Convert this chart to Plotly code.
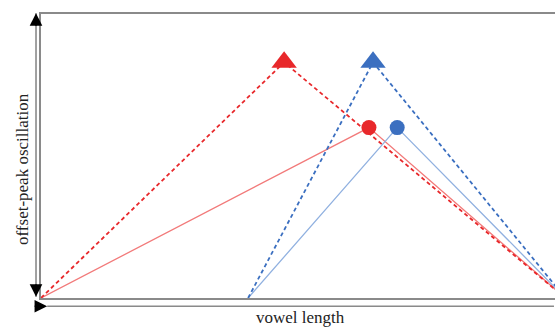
import plotly.graph_objects as go

# Schematic: offset-peak oscillation vs. vowel length
# Each contour: onset -> peak -> offset (x = vowel length, y = oscillation)
red_x_dashed = [0, 47.3, 102]
red_y_dashed = [0, 83, 0]
red_x_solid = [0, 63.8, 102]
red_y_solid = [0, 60, 0]

blue_x_dashed = [40.3, 64.6, 102]
blue_y_dashed = [0, 83, 0]
blue_x_solid = [40.3, 69.3, 102]
blue_y_solid = [0, 60, 0]

RED = "#e8282b"
BLUE = "#3b6fc0"
RED_LIGHT = "#f27a7a"
BLUE_LIGHT = "#91b1e0"
AXIS = "#8a8a8a"

fig = go.Figure()

# solid (peak-circle) contours
fig.add_trace(go.Scatter(x=red_x_solid, y=red_y_solid, mode="lines",
                         line=dict(color=RED_LIGHT, width=1.3)))
fig.add_trace(go.Scatter(x=blue_x_solid, y=blue_y_solid, mode="lines",
                         line=dict(color=BLUE_LIGHT, width=1.3)))
# dashed (peak-triangle) contours
fig.add_trace(go.Scatter(x=red_x_dashed, y=red_y_dashed, mode="lines",
                         line=dict(color=RED, width=1.8, dash="4px,3px")))
fig.add_trace(go.Scatter(x=blue_x_dashed, y=blue_y_dashed, mode="lines",
                         line=dict(color=BLUE, width=1.8, dash="4px,3px")))

# peak markers
fig.add_trace(go.Scatter(x=[red_x_dashed[1]], y=[red_y_dashed[1]], mode="markers",
                         marker=dict(symbol="triangle-up", size=22, color=RED)))
fig.add_trace(go.Scatter(x=[blue_x_dashed[1]], y=[blue_y_dashed[1]], mode="markers",
                         marker=dict(symbol="triangle-up", size=22, color=BLUE)))
fig.add_trace(go.Scatter(x=[red_x_solid[1]], y=[red_y_solid[1]], mode="markers",
                         marker=dict(symbol="circle", size=15, color=RED)))
fig.add_trace(go.Scatter(x=[blue_x_solid[1]], y=[blue_y_solid[1]], mode="markers",
                         marker=dict(symbol="circle", size=15, color=BLUE)))

# double-headed axis arrows (gray shaft, black heads)
fig.add_shape(type="line", xref="paper", yref="paper",
              x0=-0.0097, x1=-0.0097, y0=0.004, y1=1.003,
              line=dict(color=AXIS, width=1.6))
fig.add_shape(type="line", xref="paper", yref="paper",
              x0=0.012, x1=0.998, y0=-0.029, y1=-0.029,
              line=dict(color=AXIS, width=1.6))

heads = [
    (-0.0097, 1.003, 0, 14),
    (-0.0097, 0.004, 0, -14),
    (0.012, -0.029, -14, 0),
    (0.998, -0.029, 14, 0),
]
for hx, hy, ax, ay in heads:
    fig.add_annotation(x=hx, y=hy, xref="paper", yref="paper",
                       ax=ax, ay=ay, text="", showarrow=True,
                       arrowhead=2, arrowsize=1.8, arrowwidth=1.4,
                       arrowcolor="black")

FONT = "Liberation Serif"
fig.add_annotation(x=(300 - 41) / 514, y=(298 - 317) / 284, xref="paper", yref="paper",
                   text="vowel length", showarrow=False,
                   font=dict(family=FONT, size=17, color="#222"),
                   xanchor="center", yanchor="middle")
fig.add_annotation(x=(22 - 41) / 514, y=(298 - 169) / 284, xref="paper", yref="paper",
                   text="offset-peak oscillation", showarrow=False, textangle=-90,
                   font=dict(family=FONT, size=17, color="#222"),
                   xanchor="center", yanchor="middle")

fig.update_xaxes(range=[0, 100], showgrid=False, zeroline=False,
                 showticklabels=False, ticks="",
                 showline=True, linecolor=AXIS, linewidth=1.6, mirror=True)
fig.update_yaxes(range=[0, 100], showgrid=False, zeroline=False,
                 showticklabels=False, ticks="",
                 showline=True, linecolor=AXIS, linewidth=1.6, mirror=False)

fig.update_layout(width=555, height=327,
                  margin=dict(l=41, r=0, t=14, b=29),
                  plot_bgcolor="white", paper_bgcolor="white",
                  showlegend=False)

fig.write_html("out.html")
